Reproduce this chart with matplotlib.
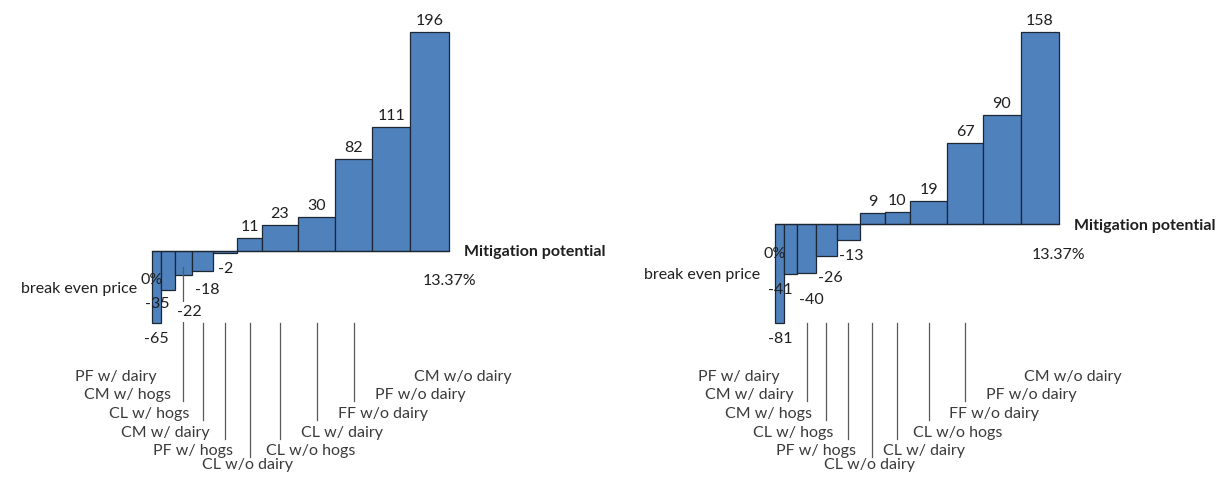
import matplotlib
matplotlib.use('Agg')
import matplotlib.pyplot as plt

plt.rcParams['font.family'] = ['Lato', 'DejaVu Sans']

# ---------------- data ----------------
total_potential = 13.37  # % mitigation potential (x-axis end)

left_labels = ['PF w/ dairy', 'CM w/ hogs', 'CL w/ hogs', 'CM w/ dairy', 'PF w/ hogs',
               'CL w/o dairy', 'CL w/o hogs', 'CL w/ dairy', 'FF w/o dairy',
               'PF w/o dairy', 'CM w/o dairy']
left_values = [-65, -35, -22, -18, -2, 11, 23, 30, 82, 111, 196]
left_widths = [0.42, 0.63, 0.75, 0.97, 1.08, 1.11, 1.60, 1.69, 1.66, 1.71, 1.75]

right_labels = ['PF w/ dairy', 'CM w/ dairy', 'CM w/ hogs', 'CL w/ hogs', 'PF w/ hogs',
                'CL w/o dairy', 'CL w/ dairy', 'CL w/o hogs', 'FF w/o dairy',
                'PF w/o dairy', 'CM w/o dairy']
right_values = [-81, -41, -40, -26, -13, 9, 10, 19, 67, 90, 158]
right_widths = [0.44, 0.63, 0.87, 0.97, 1.12, 1.14, 1.22, 1.74, 1.68, 1.77, 1.79]

# ---------------- style / layout ----------------
W, H, DPI = 1219, 479, 100
BAR_COLOR = '#4F81BD'
EDGE_COLOR = '#1C2733'
TEXT_COLOR = '#1F1F1F'
CAT_COLOR = '#3A3A3A'
LINE_COLOR = '#5A5A5A'
FS = 11.5

fig = plt.figure(figsize=(W / DPI, H / DPI), dpi=DPI)

AX_TOP_PX, AX_BOT_PX = 31.7, 323.3
panels = [
    dict(x0=151.7, x1=449.3, labels=left_labels, values=left_values, widths=left_widths,
         neg_off=[(0, 20), (-10.5, 18.5), (6, 41), (5, 23), (0, 20)],
         bep_dy=42, first_line_top=266.7, box_idx=2),
    dict(x0=774.7, x1=1058.7, labels=right_labels, values=right_values, widths=right_widths,
         neg_off=[(1, 20), (-10, 19.5), (5, 31), (4, 25.5), (2.6, 20)],
         bep_dy=55, first_line_top=None, box_idx=None),
]

# label baselines (figure px from top) per stagger level
LEVEL_BASE = [380.7, 399.3, 418.2, 437.0, 455.5, 469.3]
LEVELS = [0, 1, 2, 3, 4, 5, 4, 3, 2, 1, 0]
CAT_HA = ['right'] * 5 + ['center'] + ['left'] * 5
CAT_DX = [0.5, 3, 5.5, 7, 7.5, -2.5, -14, -16, -16, -16, -16]

for p in panels:
    ax = fig.add_axes([p['x0'] / W, (H - AX_BOT_PX) / H, (p['x1'] - p['x0']) / W,
                       (AX_BOT_PX - AX_TOP_PX) / H])
    vals, wids = p['values'], p['widths']
    lefts = [sum(wids[:i]) for i in range(len(wids))]
    centers = [l + w / 2 for l, w in zip(lefts, wids)]
    ax.set_xlim(0, total_potential)
    ax.set_ylim(min(vals), max(vals))
    ax.axis('off')
    ax.bar(lefts, vals, width=wids, align='edge', color=BAR_COLOR,
           edgecolor=EDGE_COLOR, linewidth=0.9, clip_on=False, zorder=2)
    ax.plot([0, total_potential], [0, 0], color=EDGE_COLOR, lw=0.9, clip_on=False, zorder=3)

    # value labels
    ni = 0
    for c, v in zip(centers, vals):
        if v >= 0:
            ax.annotate(f'{v}', xy=(c, v), xytext=(0, 7), textcoords='offset pixels',
                        ha='center', va='baseline', fontsize=FS, color=TEXT_COLOR, zorder=5)
        else:
            dx, dy = p['neg_off'][ni]
            bbox = None
            if p['box_idx'] == ni:
                bbox = dict(boxstyle='square,pad=0.2', fc='white', ec='none')
            ax.annotate(f'{v}', xy=(c, v), xytext=(dx, -dy), textcoords='offset pixels',
                        ha='center', va='baseline', fontsize=FS, color=TEXT_COLOR,
                        bbox=bbox, zorder=6)
            ni += 1

    # axis annotations
    ax.annotate('0%', xy=(0, 0), xytext=(0, -33.5), textcoords='offset pixels',
                ha='center', va='baseline', fontsize=FS, color=TEXT_COLOR, zorder=7)
    ax.annotate(f'{total_potential}%', xy=(total_potential, 0), xytext=(0, -34.3),
                textcoords='offset pixels', ha='center', va='baseline', fontsize=FS,
                color=TEXT_COLOR)
    ax.annotate('Mitigation potential', xy=(total_potential, 0), xytext=(15, -5.3),
                textcoords='offset pixels', ha='left', va='baseline', fontsize=FS,
                fontweight='bold', color=TEXT_COLOR)
    ax.annotate('break even price', xy=(0, 0), xytext=(-15, -p['bep_dy']),
                textcoords='offset pixels', ha='right', va='baseline', fontsize=FS,
                color=TEXT_COLOR)

    # leader lines (bars 3..9) and category labels
    for i, (c, lab) in enumerate(zip(centers, p['labels'])):
        lvl = LEVELS[i]
        ax.annotate(lab, xy=(c, 1 - LEVEL_BASE[lvl] / H),
                    xycoords=(ax.transData, fig.transFigure),
                    xytext=(CAT_DX[i], 0), textcoords='offset pixels',
                    ha=CAT_HA[i], va='baseline', fontsize=FS, color=CAT_COLOR)
        if 2 <= i <= 8:
            top_px = AX_BOT_PX
            if i == 2 and p['first_line_top'] is not None:
                top_px = p['first_line_top']
            bot_px = LEVEL_BASE[lvl - 1] + 1.5
            ax.plot([c, c], [1 - top_px / H, 1 - bot_px / H], color=LINE_COLOR, lw=0.9,
                    transform=matplotlib.transforms.blended_transform_factory(
                        ax.transData, fig.transFigure), clip_on=False, zorder=4)

fig.savefig('out.png', dpi=DPI, facecolor='white')
